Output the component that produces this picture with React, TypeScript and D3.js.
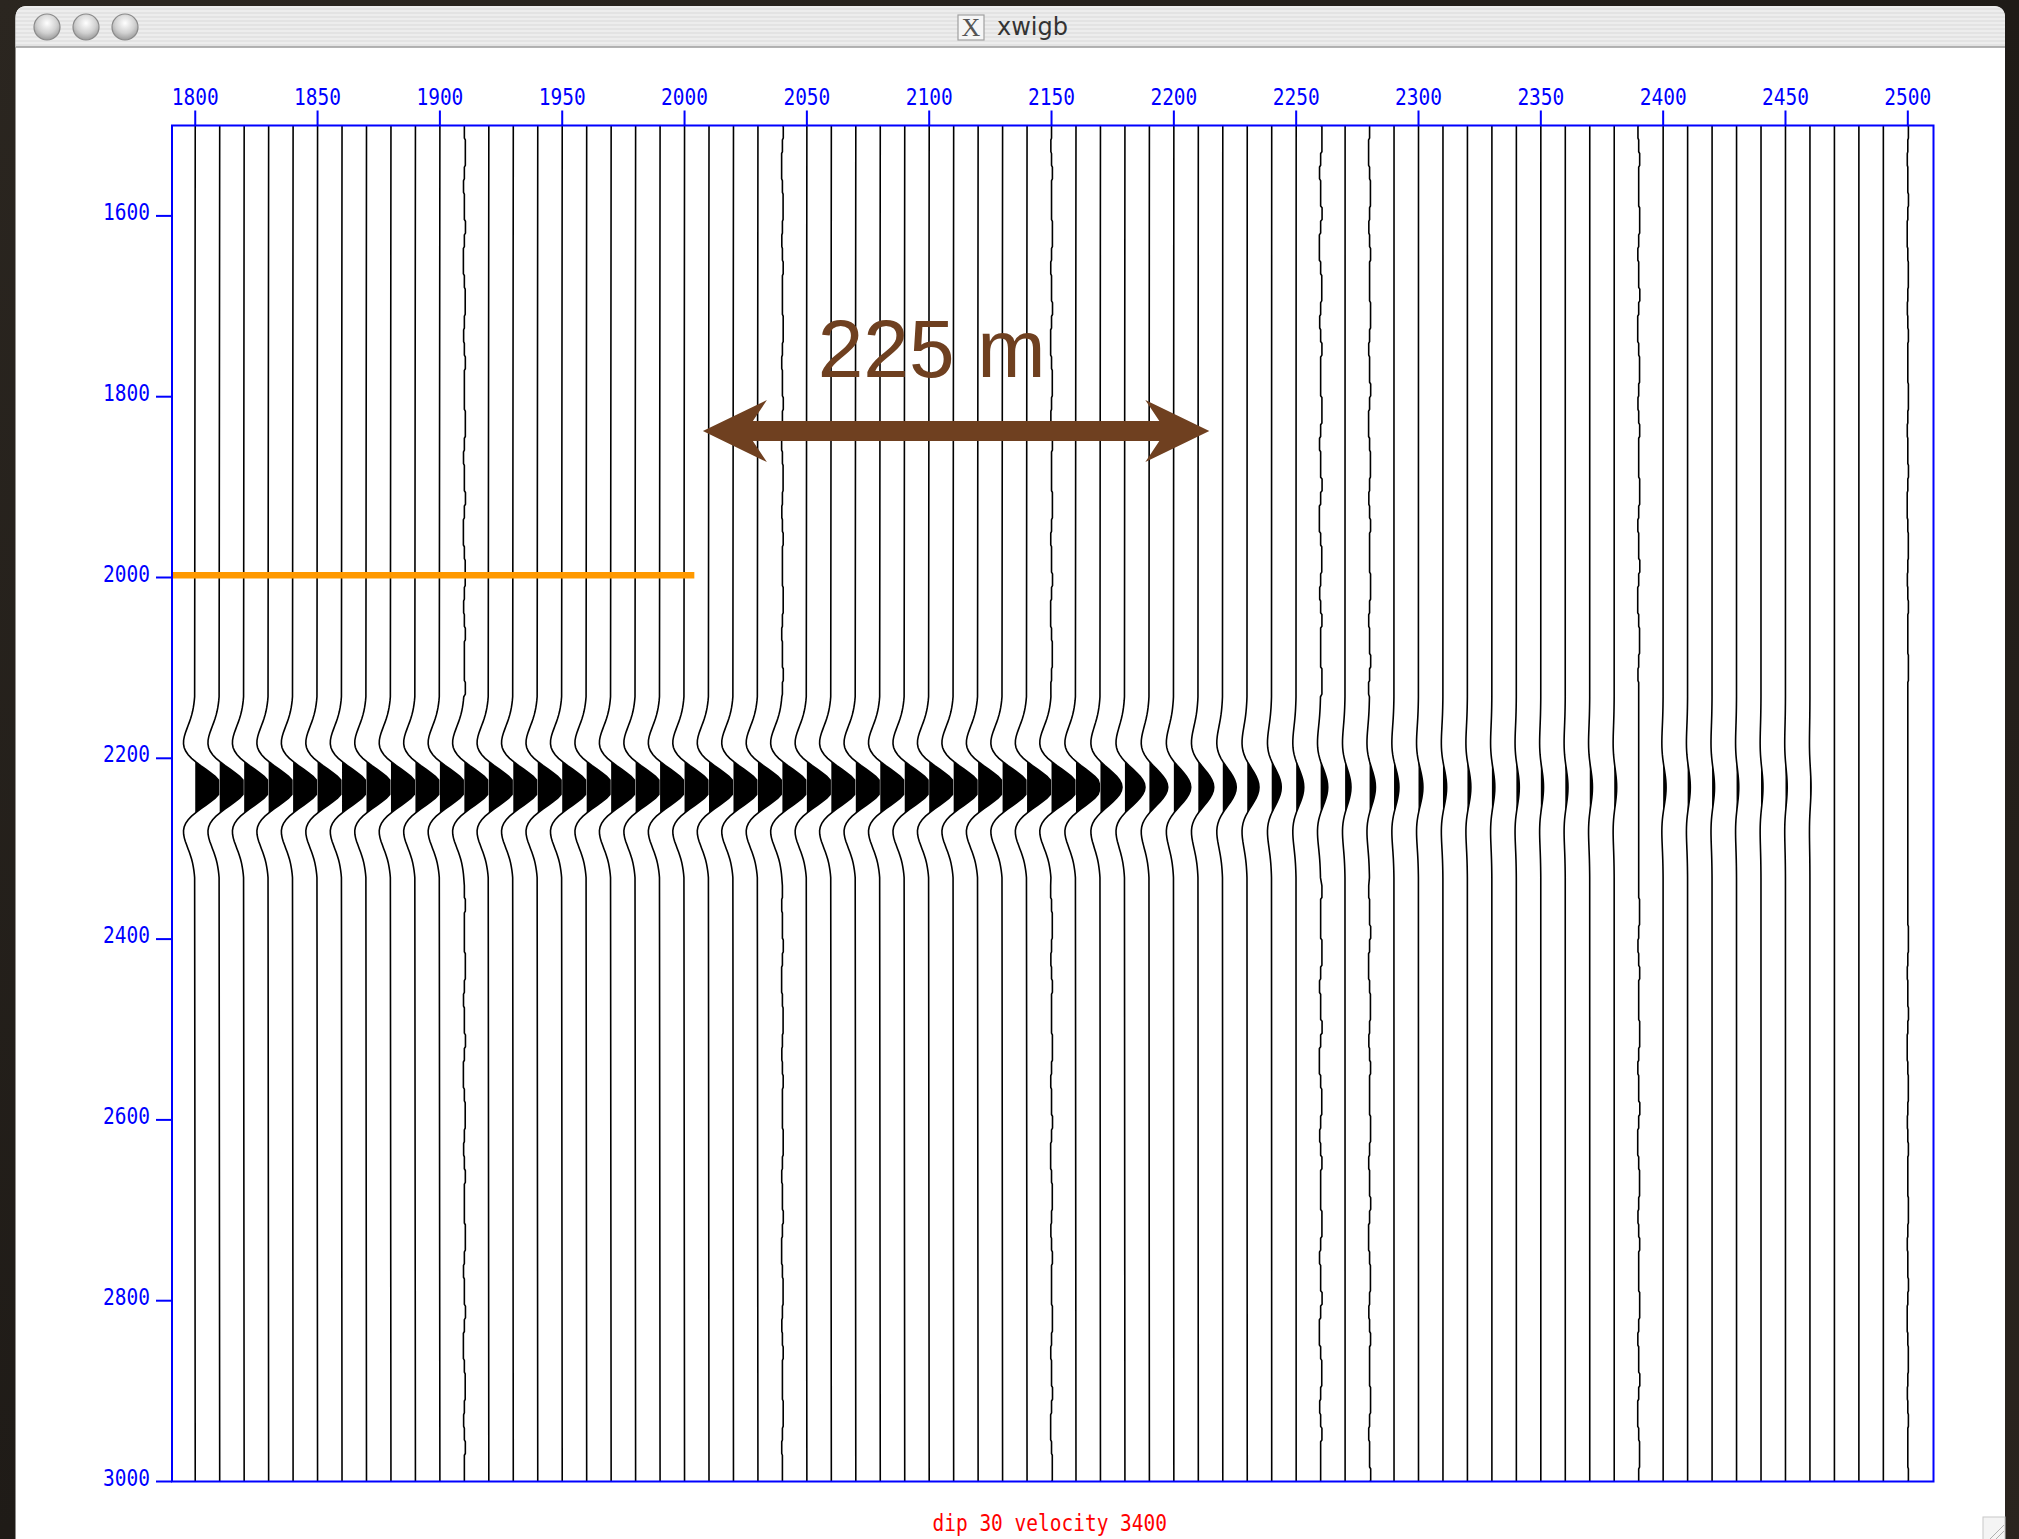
import React from "react";
import * as d3 from "d3";

// ---------- data ----------
const OFFSETS = [
  1800, 1810, 1820, 1830, 1840, 1850, 1860, 1870, 1880, 1890,
  1900, 1910, 1920, 1930, 1940, 1950, 1960, 1970, 1980, 1990,
  2000, 2010, 2020, 2030, 2040, 2050, 2060, 2070, 2080, 2090,
  2100, 2110, 2120, 2130, 2140, 2150, 2160, 2170, 2180, 2190,
  2200, 2210, 2220, 2230, 2240, 2250, 2260, 2270, 2280, 2290,
  2300, 2310, 2320, 2330, 2340, 2350, 2360, 2370, 2380, 2390,
  2400, 2410, 2420, 2430, 2440, 2450, 2460, 2470, 2480, 2490, 2500,
];

// peak amplitude of the event on each trace, in offset units (before clipping)
const AMPLITUDES = [
  10.8, 10.8, 10.8, 10.8, 10.8, 10.8, 10.8, 10.8, 10.8, 10.8,
  10.8, 10.8, 10.8, 10.8, 10.8, 10.8, 10.8, 10.8, 10.8, 10.8,
  10.8, 10.8, 10.8, 10.8, 10.8, 10.8, 10.8, 10.8, 10.8, 10.8,
  10.8, 10.8, 10.8, 10.8, 10.8, 10.8, 10.2, 8.8, 8.2, 7.5,
  6.9, 6.3, 5.5, 4.8, 3.9, 3.1, 2.9, 2.4, 2.4, 2.0,
  1.8, 1.5, 1.4, 1.2, 1.2, 1.1, 1.1, 1.1, 1.0, 0,
  1.2, 1.1, 1.0, 0.9, 0.8, 0.7, 0.45, 0, 0, 0, 0,
];

const EVENT_TIME = 2232;
const CLIP = 9.5;

// wavelet shape, relative time (ms) and normalised amplitude
const WAVELET_REL = [
  -100, -96, -92, -88, -84, -80, -76, -72, -68, -64, -60, -56, -52, -48, -44, -40,
  -36, -32, -28, -24, -20, -16, -12, -8, -4, 0, 4, 8, 12, 16, 20, 24, 28, 32, 36,
  40, 44, 48, 52, 56, 60, 64, 68, 72, 76, 80, 84, 88, 92, 96, 100,
];
const WAVELET_VALUES = [
  -0.023, -0.035, -0.052, -0.073, -0.1, -0.134, -0.175, -0.222, -0.274, -0.324, -0.374,
  -0.414, -0.44, -0.444, -0.42, -0.362, -0.268, -0.139, 0.022, 0.205, 0.397, 0.585,
  0.753, 0.885, 0.971, 1.0, 0.971, 0.885, 0.753, 0.585, 0.397, 0.205, 0.022, -0.139,
  -0.268, -0.362, -0.42, -0.444, -0.44, -0.414, -0.374, -0.324, -0.274, -0.222,
  -0.175, -0.134, -0.1, -0.073, -0.052, -0.035, -0.023,
];

// traces that show small numerical jitter along their whole length
const JAGGED_OFFSETS = [1910, 2040, 2150, 2260, 2280, 2390, 2500];
const JAGGED_STRENGTH = [1.0, 0.8, 0.9, 1.3, 1.0, 1.0, 0.6];
const JITTER_STEP_MS = 15;
const JITTER_PATTERN = [
  0, 0.4, 0.4, 0, -0.35, 0, 0, 0.45, 0, -0.4,
  -0.4, 0, 0.35, 0.35, 0, -0.3, 0, 0.4, 0, 0,
];

const X_TICKS = [1800, 1850, 1900, 1950, 2000, 2050, 2100, 2150, 2200, 2250, 2300, 2350, 2400, 2450, 2500];
const Y_TICKS = [1600, 1800, 2000, 2200, 2400, 2600, 2800, 3000];
const X_DOMAIN = [1790.5, 2510.5];
const Y_DOMAIN = [1500, 3000];

const WINDOW_TITLE = "xwigb";
const PLOT_TITLE = "dip 30 velocity 3400";

const MARKER_TIME = 1997.5;
const MARKER_FROM = 1790.5;
const MARKER_TO = 2004;

const ARROW_FROM = 2007.5;
const ARROW_TO = 2214.5;
const ARROW_TIME = 1838;
const ANNOTATION = "225 m";
const ANNOTATION_X = 2101;
const ANNOTATION_TIME = 1778;

// ---------- styling ----------
const W = 2019;
const H = 1539;
const BLUE = "#0000ff";
const BROWN = "#6f4020";
const MONO = "'DejaVu Sans Mono', 'Liberation Mono', monospace";

type Pt = { t: number; v: number };

export default function App() {
  const x = d3.scaleLinear().domain(X_DOMAIN).range([172, 1933.5]);
  const y = d3.scaleLinear().domain(Y_DOMAIN).range([125.5, 1481.5]);
  const k = x(1) - x(0);

  const waveStart = EVENT_TIME + WAVELET_REL[0];
  const waveEnd = EVENT_TIME + WAVELET_REL[WAVELET_REL.length - 1];

  const line = d3
    .line<Pt & { xb: number }>()
    .x((d) => d.xb + d.v * k)
    .y((d) => y(d.t));

  const traces = OFFSETS.map((off, i) => {
    const amp = AMPLITUDES[i];
    const xb = x(off);
    const jIdx = JAGGED_OFFSETS.indexOf(off);
    const pts: Pt[] = [];
    // wavelet part
    const wave: Pt[] = WAVELET_REL.map((r, j) => ({
      t: EVENT_TIME + r,
      v: Math.min(CLIP, amp * WAVELET_VALUES[j]),
    }));
    if (jIdx >= 0) {
      const s = JAGGED_STRENGTH[jIdx];
      const n = Math.round((Y_DOMAIN[1] - Y_DOMAIN[0]) / JITTER_STEP_MS);
      for (let m = 0; m < n; m++) {
        const t0 = Y_DOMAIN[0] + m * JITTER_STEP_MS;
        const t1 = t0 + JITTER_STEP_MS;
        if (t1 > waveStart - 2 && t0 < waveEnd + 2) continue;
        const val = JITTER_PATTERN[(m + jIdx * 7) % JITTER_PATTERN.length] * s;
        pts.push({ t: t0 + 1, v: val });
        pts.push({ t: t1 - 1, v: val });
      }
    }
    pts.push({ t: Y_DOMAIN[0], v: 0 });
    pts.push({ t: Y_DOMAIN[1], v: 0 });
    pts.push(...wave);
    pts.sort((a, b) => a.t - b.t);
    const path = line(pts.map((p) => ({ ...p, xb }))) || "";

    // positive fill with zero-crossings inserted
    const fillPts: Pt[] = [];
    for (let j = 0; j < wave.length; j++) {
      const p = wave[j];
      if (j > 0) {
        const q = wave[j - 1];
        if ((q.v > 0 && p.v < 0) || (q.v < 0 && p.v > 0)) {
          const f = q.v / (q.v - p.v);
          fillPts.push({ t: q.t + f * (p.t - q.t), v: 0 });
        }
      }
      fillPts.push({ t: p.t, v: Math.max(0, p.v) });
    }
    const area =
      d3
        .area<Pt>()
        .x0(() => xb)
        .x1((d) => xb + d.v * k)
        .y((d) => y(d.t))(fillPts) || "";
    return { off, path, area, amp };
  });

  const ax0 = x(ARROW_FROM);
  const ax1 = x(ARROW_TO);
  const ay = y(ARROW_TIME);
  const arrowPts: [number, number][] = [
    [ax0, ay],
    [ax0 + 64, ay - 31],
    [ax0 + 50, ay - 10],
    [ax1 - 50, ay - 10],
    [ax1 - 64, ay - 31],
    [ax1, ay],
    [ax1 - 64, ay + 31],
    [ax1 - 50, ay + 10],
    [ax0 + 50, ay + 10],
    [ax0 + 64, ay + 31],
  ];

  const [px0, px1] = x.range();
  const [py0, py1] = y.range();

  return (
    <svg
      width={W}
      height={H}
      style={{ position: "absolute", left: 0, top: 0, display: "block" }}
      xmlns="http://www.w3.org/2000/svg"
    >
      <defs>
        <pattern id="stripes" width="4" height="4" patternUnits="userSpaceOnUse">
          <rect width="4" height="4" fill="#ededed" />
          <rect width="4" height="2" fill="#e3e3e3" />
        </pattern>
        <radialGradient id="btn" cx="50%" cy="35%" r="65%">
          <stop offset="0%" stopColor="#ffffff" />
          <stop offset="60%" stopColor="#d0d0d0" />
          <stop offset="100%" stopColor="#9a9a9a" />
        </radialGradient>
        <linearGradient id="bg" x1="0" y1="0" x2="1" y2="1">
          <stop offset="0%" stopColor="#2b2620" />
          <stop offset="50%" stopColor="#1f1b17" />
          <stop offset="100%" stopColor="#2a241e" />
        </linearGradient>
        <clipPath id="plotclip">
          <rect x={px0} y={py0} width={px1 - px0} height={py1 - py0} />
        </clipPath>
      </defs>

      {/* desktop background */}
      <rect x={0} y={0} width={W} height={H} fill="url(#bg)" />

      {/* window */}
      <path
        d={`M15.5,${H + 10} L15.5,18 Q15.5,6 27.5,6 L1993,6 Q2005,6 2005,18 L2005,${H + 10} Z`}
        fill="#ffffff"
      />
      <path
        d={`M15.5,47 L15.5,18 Q15.5,6 27.5,6 L1993,6 Q2005,6 2005,18 L2005,47 Z`}
        fill="url(#stripes)"
      />
      <line x1={15.5} x2={2005} y1={47} y2={47} stroke="#9a9a9a" strokeWidth={1.5} />
      {[47, 86, 125].map((cx) => (
        <circle key={cx} cx={cx} cy={27} r={13} fill="url(#btn)" stroke="#8a8a8a" strokeWidth={1.2} />
      ))}
      <rect x={958} y={15} width={26} height={25} fill="#f6f6f6" stroke="#a0a0a0" strokeWidth={1.2} />
      <text
        x={971}
        y={36}
        textAnchor="middle"
        fontFamily="'Liberation Serif', serif"
        fontSize={26}
        fill="#555"
      >
        X
      </text>
      <text x={997} y={35} fontFamily="'DejaVu Sans', sans-serif" fontSize={24} fill="#333">
        {WINDOW_TITLE}
      </text>

      {/* resize grip */}
      <g stroke="#b0b0b0" strokeWidth={1}>
        <rect x={1983} y={1517} width={22} height={24} fill="#f4f4f4" stroke="#c8c8c8" />
        <line x1={1990} y1={1539} x2={2004} y2={1525} />
        <line x1={1996} y1={1539} x2={2004} y2={1531} />
      </g>

      {/* traces */}
      <g clipPath="url(#plotclip)">
        {traces.map((tr) => (
          <g key={tr.off}>
            {tr.amp > 0 && <path d={tr.area} fill="#000" stroke="none" />}
            <path d={tr.path} fill="none" stroke="#000" strokeWidth={1.6} />
          </g>
        ))}
      </g>

      {/* marker line */}
      <line
        x1={x(MARKER_FROM)}
        x2={x(MARKER_TO)}
        y1={y(MARKER_TIME)}
        y2={y(MARKER_TIME)}
        stroke="#ff9900"
        strokeWidth={6.5}
      />

      {/* annotation */}
      <polygon points={arrowPts.map((p) => p.join(",")).join(" ")} fill={BROWN} />
      <text
        x={x(ANNOTATION_X)}
        y={y(ANNOTATION_TIME)}
        textAnchor="middle"
        fontFamily="'Liberation Sans', Arial, Helvetica, sans-serif"
        fontSize={82}
        fill={BROWN}
      >
        {ANNOTATION}
      </text>

      {/* frame and axes */}
      <rect
        x={px0}
        y={py0}
        width={px1 - px0}
        height={py1 - py0}
        fill="none"
        stroke={BLUE}
        strokeWidth={2}
      />
      {X_TICKS.map((v) => (
        <g key={v}>
          <line x1={x(v)} x2={x(v)} y1={py0} y2={py0 - 15} stroke={BLUE} strokeWidth={2} />
          <text
            transform={`translate(${x(v)},105) scale(1,1.2)`}
            textAnchor="middle"
            fontFamily={MONO}
            fontSize={19.5}
            fill={BLUE}
          >
            {v}
          </text>
        </g>
      ))}
      {Y_TICKS.map((v) => (
        <g key={v}>
          <line x1={px0} x2={px0 - 16} y1={y(v)} y2={y(v)} stroke={BLUE} strokeWidth={2} />
          <text
            transform={`translate(150,${y(v) + 4}) scale(1,1.2)`}
            textAnchor="end"
            fontFamily={MONO}
            fontSize={19.5}
            fill={BLUE}
          >
            {v}
          </text>
        </g>
      ))}

      <text
        transform={`translate(${(px0 + px1) / 2 - 3},1531) scale(1,1.2)`}
        textAnchor="middle"
        fontFamily={MONO}
        fontSize={19.5}
        fill="#ff0000"
      >
        {PLOT_TITLE}
      </text>
    </svg>
  );
}
